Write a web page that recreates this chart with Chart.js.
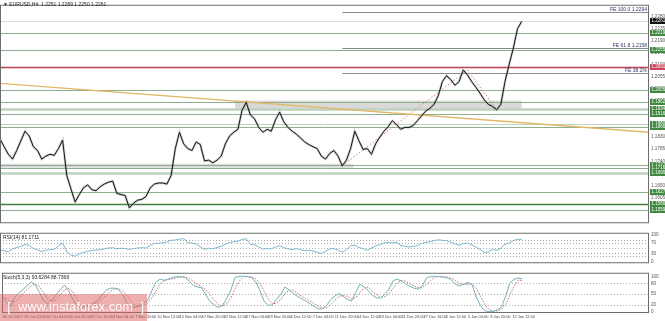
<!DOCTYPE html>
<html><head><meta charset="utf-8">
<script src="https://cdn.jsdelivr.net/npm/chart.js@4.4.1/dist/chart.umd.min.js"></script>
<style>
html,body{margin:0;padding:0;background:#fff;width:665px;height:321px;overflow:hidden}
canvas{position:absolute;left:0}
#c1{top:0}#c2{top:228px}#c3{top:268px}
#wm{position:absolute;left:0;top:294px;width:147px;height:27px;background:rgba(222,95,95,0.5);color:#fff;font:12.5px "Liberation Sans",Arial,sans-serif;line-height:27px;white-space:pre;letter-spacing:0.2px}
</style></head><body>
<canvas id="c1" width="665" height="228"></canvas>
<canvas id="c2" width="665" height="40"></canvas>
<canvas id="c3" width="665" height="53"></canvas>
<div id="wm">  [  www.instaforex.com  ]</div>
<script>
// ---------- data ----------
const STEP = 3;            // H4 bars per sample
const MAXBAR = 466.5;      // bars visible across the plot
const X_LABELS = ['16 Oct 2017','19 Oct 12:00','24 Oct 04:00','26 Oct 20:00','31 Oct 12:00','3 Nov 04:00','7 Nov 20:00','10 Nov 12:00','15 Nov 04:00','17 Nov 20:00','22 Nov 12:00','27 Nov 04:00','29 Nov 20:00','4 Dec 12:00','7 Dec 04:00','11 Dec 20:00','14 Dec 12:00','19 Dec 04:00','21 Dec 20:00','27 Dec 16:00','2 Jan 12:00','5 Jan 04:00','9 Jan 20:00','12 Jan 12:00'];
const X_LABEL_EVERY = 16;  // bars between time labels

const CLOSE = [1.1823,1.1794,1.1766,1.1748,1.1780,1.1816,1.1852,1.1834,1.1794,1.1780,
1.1748,1.1759,1.1766,1.1762,1.1787,1.1819,1.1687,1.1637,1.1588,1.1616,
1.1641,1.1652,1.1634,1.1630,1.1645,1.1655,1.1662,1.1666,1.1620,1.1616,
1.1612,1.1566,1.1584,1.1595,1.1598,1.1609,1.1641,1.1655,1.1659,1.1659,
1.1655,1.1687,1.1787,1.1848,1.1805,1.1787,1.1780,1.1812,1.1802,1.1741,
1.1744,1.1734,1.1744,1.1759,1.1805,1.1834,1.1848,1.1859,1.1930,1.1959,
1.1912,1.1898,1.1866,1.1848,1.1859,1.1852,1.1894,1.1923,1.1887,1.1866,
1.1852,1.1841,1.1827,1.1812,1.1802,1.1794,1.1787,1.1759,1.1748,1.1769,
1.1780,1.1759,1.1723,1.1744,1.1787,1.1852,1.1816,1.1784,1.1787,1.1766,
1.1805,1.1830,1.1852,1.1869,1.1891,1.1877,1.1859,1.1866,1.1866,1.1873,
1.1891,1.1909,1.1927,1.1937,1.1952,1.1984,1.2037,1.2059,1.2044,1.2023,
1.2037,1.2080,1.2062,1.2037,1.2016,1.1994,1.1969,1.1952,1.1944,1.1932,
1.1952,1.2037,1.2101,1.2162,1.2234,1.2261];

const RSI = [44,40,36,47,52,56,63,60,48,43, 37,42,44,45,58,68,36,24,20,29,
34,38,41,42,44,47,50,51,47,49, 48,45,48,50,51,50,60,67,67,69,
72,78,79,82,84,70,68,64,55,45, 49,47,52,56,64,70,73,75,81,84,
63,62,54,46,48,47,54,58,51,47, 44,48,44,40,42,39,35,29,38,47,
48,42,35,44,58,60,52,48,42,50, 57,63,68,71,68,71,60,56,54,56,
59,67,70,73,76,80,78,76,72,65, 60,66,68,61,54,45,34,35,46,41,
49,64,68,77,82,81.17];

const STOCH_K = [47,28,15,40,53,62,74,84,76,55, 32,24,34,48,63,75,60,36,18,10,
17,20,25,32,47,61,67,67,63,48, 27,15,13,18,25,32,60,84,92,89,
93,97,99,99,97,86,75,70,68,48, 30,20,13,19,38,62,97,100,100,99,
96,84,60,30,19,20,36,50,70,62, 52,44,37,31,24,16,9,9,18,35,
45,52,44,35,31,55,78,71,60,47, 40,39,50,64,88,92,87,79,72,67,
64,73,95,100,100,99,98,96,90,78, 73,79,83,76,42,18,4,1,2,6,
13,43,80,92,95,93.63];

const STOCH_D = [40,38,30,28,36,52,63,73,78,72, 54,37,30,35,48,62,66,57,38,21,
15,16,21,26,35,47,58,65,66,59, 46,30,18,15,19,25,39,59,79,88,
91,93,96,98,98,94,86,77,71,62, 49,33,21,17,23,40,66,86,99,100,
98,93,80,58,36,23,25,35,52,61, 61,53,44,37,31,24,16,11,12,21,
33,44,47,44,37,40,55,68,70,59, 49,42,43,51,67,81,89,86,79,73,
68,68,77,89,98,100,99,98,95,88, 80,77,78,79,67,45,21,8,2,3,
7,21,45,72,89,88.74];

const PRICE_TICKS = [1.1560,1.1605,1.1650,1.1695,1.1740,1.1785,1.1830,1.1875,1.1920,1.1965,1.2010,1.2055,1.2100,1.2145,1.2190,1.2235,1.2280];
const PRICE_MIN = 1.1509, PRICE_MAX = 1.2323;
const RSI_TICKS = [100,80,70,50,30,20,0];
const RSI_LEVELS = [80,70,50,30,20];
const STOCH_TICKS = [100,80,50,20,0];
const STOCH_LEVELS = [80,50,20];

// support / resistance levels (price) and the one red level
const GREEN_LEVELS = [1.2219,1.2155,1.2005,1.1962,1.1934,1.1916,1.1880,1.1866,1.1727,1.1716,1.1695,1.1627,1.1580,1.1559];
const RED_LEVEL = 1.2091;
const LAST_PRICE = 1.2261;
// trend line anchors [bar, price]
const TREND_BARS = [0, 466.5];
const TREND_PRICES = [1.2030, 1.1848];
// Fibonacci expansion anchors A, B, C
const FIB_BARS = [246, 336, 357];
const FIB_PRICES = [1.1723, 1.2080, 1.1932];
const FE_PRICES = [1.2294, 1.2158, 1.2066];
const FE_TEXT = ['FE 100.0 1.2294','FE 61.8 1.2158','FE 38.2%'];
// shaded zones: [bar start, bar end], [price top, price bottom]
const ZONE_BARS = [[169, 375],[0, 254]];
const ZONE_PRICES = [[1.1966, 1.1930],[1.1730, 1.1716]];
const TITLE = '\u25BC EURUSD,H4  1.2251 1.2269 1.2250 1.2261';
const RSI_TITLE = 'RSI(14) 81.1711';
const STOCH_TITLE = 'Stoch(5,3,3) 93.6284 88.7366';

// ---------- helpers ----------
const FAM = '"Liberation Sans Narrow", "Liberation Sans", Arial, sans-serif';
Chart.defaults.font.family = FAM;
Chart.defaults.animation = false;
const pts = arr => arr.map((v, i) => ({x: i * STEP, y: v}));
const FONT = '5px ' + FAM;

function yAxis(min, max, ticks, fmt) {
  return {
    position: 'right', min, max,
    grid: {display: false, drawTicks: false},
    border: {display: false},
    ticks: {font: {size: 4.6}, color: '#555', padding: 2, callback: fmt},
    afterFit(s) { s.width = 16; },
    afterBuildTicks(s) { s.ticks = ticks.map(v => ({value: v})); }
  };
}
function hline(ctx, x0, x1, y, color, w, dash) {
  ctx.save(); ctx.strokeStyle = color; ctx.lineWidth = w;
  if (dash) ctx.setLineDash(dash);
  ctx.beginPath(); ctx.moveTo(x0, Math.round(y) + 0.5); ctx.lineTo(x1, Math.round(y) + 0.5); ctx.stroke();
  ctx.restore();
}
function frame(ctx, a) {
  ctx.save(); ctx.strokeStyle = '#6e6e6e'; ctx.lineWidth = 1;
  ctx.strokeRect(a.left + 0.5, a.top + 0.5, a.right - a.left - 1, a.bottom - a.top - 1);
  ctx.restore();
}
function tag(ctx, x, y, txt, bg) {
  ctx.save(); ctx.fillStyle = bg; ctx.fillRect(x, Math.round(y) - 3, 665 - x, 6);
  ctx.fillStyle = '#fff'; ctx.font = '4.5px ' + FAM;
  ctx.textBaseline = 'middle'; ctx.textAlign = 'left';
  ctx.fillText(txt, x + 1.5, Math.round(y)); ctx.restore();
}

// ---------- main price panel ----------
const mainPlugin = {
  id: 'mainDeco',
  beforeDatasetsDraw(chart) {
    const {ctx, chartArea: a, scales: {x, y}} = chart;
    ctx.save();
    ctx.fillStyle = '#d9d9d9';
    ZONE_BARS.forEach((b, i) => {
      const x0 = x.getPixelForValue(b[0]), x1 = x.getPixelForValue(b[1]);
      const y0 = y.getPixelForValue(ZONE_PRICES[i][0]), y1 = y.getPixelForValue(ZONE_PRICES[i][1]);
      ctx.fillRect(x0, y0, x1 - x0, y1 - y0);
    });
    ctx.restore();
    hline(ctx, a.left, a.right, y.getPixelForValue(LAST_PRICE), '#dcdcdc', 1);
    GREEN_LEVELS.forEach(p => {
      let c = '#8fae8f', w = 1;
      if (p === 1.1934 || p === 1.1695) { c = '#bfd2bf'; w = 2.5; }
      if (p === 1.1580) { c = '#3f7f3f'; w = 1.3; }
      if (p === 1.1880) { c = '#c3d3c3'; }
      hline(ctx, a.left, a.right, y.getPixelForValue(p), c, w);
    });
    hline(ctx, a.left, a.right, y.getPixelForValue(RED_LEVEL), '#f2b6c0', 2.5);
    hline(ctx, a.left, a.right, y.getPixelForValue(RED_LEVEL), '#b4485e', 1);
    const fx = x.getPixelForValue(FIB_BARS[0]);
    FE_PRICES.forEach(p => hline(ctx, fx, a.right, y.getPixelForValue(p) - 1, '#8a8a8a', 1));
  },
  afterDraw(chart) {
    const {ctx, chartArea: a, scales: {x, y}} = chart;
    frame(ctx, a);
    ctx.save();
    ctx.font = FONT; ctx.fillStyle = '#33336a'; ctx.textAlign = 'right'; ctx.textBaseline = 'bottom';
    FE_PRICES.forEach((p, i) => ctx.fillText(FE_TEXT[i], a.right - 2, Math.round(y.getPixelForValue(p)) - 1));
    ctx.textAlign = 'left'; ctx.textBaseline = 'top'; ctx.fillStyle = '#222';
    ctx.fillText(TITLE, 3, 2);
    ctx.restore();
    GREEN_LEVELS.forEach(p => tag(ctx, a.right + 1, y.getPixelForValue(p), p.toFixed(4), '#3f8a3f'));
    tag(ctx, a.right + 1, y.getPixelForValue(RED_LEVEL), RED_LEVEL.toFixed(4), '#d0455e');
    tag(ctx, a.right + 1, y.getPixelForValue(LAST_PRICE), LAST_PRICE.toFixed(4), '#111');
  }
};

new Chart(document.getElementById('c1'), {
  type: 'line',
  data: {datasets: [
    {data: pts(CLOSE), borderColor: '#161616', borderWidth: 1, pointRadius: 0, tension: 0, order: 0},
    {data: pts(CLOSE), borderColor: 'rgba(140,140,140,0.45)', borderWidth: 2.4, pointRadius: 0, tension: 0, order: 1},
    {data: TREND_BARS.map((b, i) => ({x: b, y: TREND_PRICES[i]})), borderColor: '#e2b866', borderWidth: 1.3, pointRadius: 0, order: 3},
    {data: FIB_BARS.map((b, i) => ({x: b, y: FIB_PRICES[i]})), borderColor: '#e07a8a', borderWidth: 1, borderDash: [1.5, 2], pointRadius: 0, order: 2}
  ]},
  options: {
    responsive: false, events: [],
    layout: {padding: 0},
    plugins: {legend: {display: false}, tooltip: {enabled: false}},
    scales: {
      x: {type: 'linear', min: 0, max: MAXBAR, display: false},
      y: yAxis(PRICE_MIN, PRICE_MAX, PRICE_TICKS, v => v.toFixed(4))
    }
  },
  plugins: [mainPlugin]
});

// ---------- oscillator panels ----------
function oscPlugin(levels, title) {
  return {
    id: 'osc' + title.length,
    beforeDatasetsDraw(chart) {
      const {ctx, chartArea: a, scales: {y}} = chart;
      levels.forEach(v => hline(ctx, a.left, a.right, y.getPixelForValue(v), '#b0b0b0', 1, [1, 2]));
    },
    afterDraw(chart) {
      const {ctx, chartArea: a} = chart;
      frame(ctx, a);
      ctx.save(); ctx.font = FONT; ctx.fillStyle = '#222'; ctx.textBaseline = 'top';
      ctx.fillText(title, 3, a.top + 2); ctx.restore();
    }
  };
}

new Chart(document.getElementById('c2'), {
  type: 'line',
  data: {datasets: [
    {data: pts(RSI), borderColor: '#7fb6cf', borderWidth: 1, pointRadius: 0, tension: 0}
  ]},
  options: {
    responsive: false, events: [], layout: {padding: 0},
    plugins: {legend: {display: false}, tooltip: {enabled: false}},
    scales: {
      x: {type: 'linear', min: 0, max: MAXBAR, display: false},
      y: yAxis(-5.56, 105.56, RSI_TICKS, v => String(v))
    }
  },
  plugins: [oscPlugin(RSI_LEVELS, RSI_TITLE)]
});

new Chart(document.getElementById('c3'), {
  type: 'line',
  data: {datasets: [
    {data: pts(STOCH_K), borderColor: '#6fb3c0', borderWidth: 1, pointRadius: 0, tension: 0},
    {data: pts(STOCH_D), borderColor: '#d06a6a', borderWidth: 1, borderDash: [1.5, 1.5], pointRadius: 0, tension: 0}
  ]},
  options: {
    responsive: false, events: [], layout: {padding: 0},
    plugins: {legend: {display: false}, tooltip: {enabled: false}},
    scales: {
      x: {
        type: 'linear', min: 0, max: MAXBAR, position: 'bottom',
        grid: {display: false, drawTicks: false}, border: {display: false},
        ticks: {font: {size: 3.9}, color: '#444', padding: 2, align: 'start', autoSkip: false, maxRotation: 0,
          callback: (v) => X_LABELS[Math.round(v / X_LABEL_EVERY)] || ''},
        afterFit(s) { s.height = 8; },
        afterBuildTicks(s) { s.ticks = X_LABELS.map((t, k) => ({value: k * X_LABEL_EVERY})); }
      },
      y: yAxis(-2.5, 110, STOCH_TICKS, v => String(v))
    }
  },
  plugins: [oscPlugin(STOCH_LEVELS, STOCH_TITLE)]
});
</script>
</body></html>
